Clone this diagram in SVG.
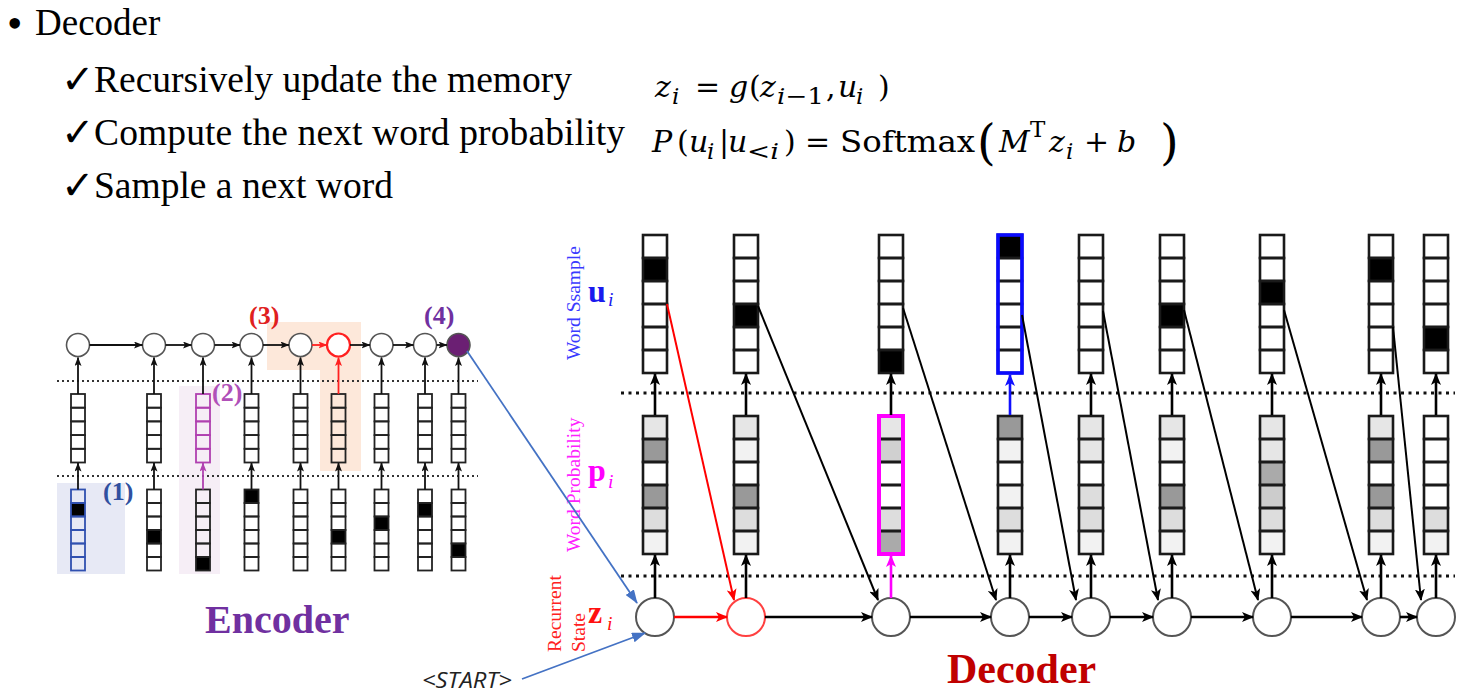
<svg xmlns="http://www.w3.org/2000/svg" xmlns:xlink="http://www.w3.org/1999/xlink" width="1476" height="698" viewBox="0 0 1476 698">
<style>
.t{font-family:"Liberation Serif","Times New Roman",serif;fill:#000}
.m{font-family:"DejaVu Serif",serif;fill:#000;font-size:30px}
.mi{font-style:italic}
.ms{font-size:23px}
.mb{font-size:48px}
.ck{font-family:"DejaVu Sans",sans-serif;font-size:40px;fill:#000}
.dc{stroke:#1a1a1a;stroke-width:2.6;fill:none}
.ec{stroke:#222;stroke-width:1.8;fill:none}
.w{fill:#fff}
.k{fill:#000}
.zc{fill:#fff;stroke:#555;stroke-width:2}
.ecir{fill:#fff;stroke:#555;stroke-width:1.6}
.a{stroke:#000;stroke-width:2.6;fill:none;marker-end:url(#ah)}
.ad{stroke:#000;stroke-width:2;fill:none;marker-end:url(#ah)}
.ea{stroke:#111;stroke-width:1.8;fill:none;marker-end:url(#ahs)}
.dot{stroke:#111;stroke-width:3;stroke-dasharray:3 4.5;fill:none}
.edot{stroke:#333;stroke-width:2;stroke-dasharray:2 3;fill:none}
.lbl{font-family:"Liberation Serif","Times New Roman",serif;font-size:19.5px}
.big{font-family:"Liberation Serif","Times New Roman",serif;font-weight:bold}
</style>
<defs>
<marker id="ah" viewBox="0 0 12 10" refX="11" refY="5" markerWidth="12" markerHeight="10" markerUnits="userSpaceOnUse" orient="auto"><path d="M0,0 L12,5 L0,10 L3,5 Z" fill="#000"/></marker>
<marker id="ahr" viewBox="0 0 12 10" refX="11" refY="5" markerWidth="12" markerHeight="10" markerUnits="userSpaceOnUse" orient="auto"><path d="M0,0 L12,5 L0,10 L3,5 Z" fill="#ff0000"/></marker>
<marker id="ahb" viewBox="0 0 12 10" refX="11" refY="5" markerWidth="12" markerHeight="10" markerUnits="userSpaceOnUse" orient="auto"><path d="M0,0 L12,5 L0,10 L3,5 Z" fill="#1010ff"/></marker>
<marker id="ahm" viewBox="0 0 12 10" refX="11" refY="5" markerWidth="12" markerHeight="10" markerUnits="userSpaceOnUse" orient="auto"><path d="M0,0 L12,5 L0,10 L3,5 Z" fill="#ff00ff"/></marker>
<marker id="ahc" viewBox="0 0 14 10" refX="13" refY="5" markerWidth="14" markerHeight="10" markerUnits="userSpaceOnUse" orient="auto"><path d="M0,0 L14,5 L0,10 Z" fill="#4472c4"/></marker>
<marker id="ahs" viewBox="0 0 9 7" refX="8.5" refY="3.5" markerWidth="9" markerHeight="7" markerUnits="userSpaceOnUse" orient="auto"><path d="M0,0 L9,3.5 L0,7 L2,3.5 Z" fill="#111"/></marker>
<marker id="ahsr" viewBox="0 0 9 7" refX="8.5" refY="3.5" markerWidth="9" markerHeight="7" markerUnits="userSpaceOnUse" orient="auto"><path d="M0,0 L9,3.5 L0,7 L2,3.5 Z" fill="#ff2020"/></marker>
<marker id="ahsm" viewBox="0 0 9 7" refX="8.5" refY="3.5" markerWidth="9" markerHeight="7" markerUnits="userSpaceOnUse" orient="auto"><path d="M0,0 L9,3.5 L0,7 L2,3.5 Z" fill="#b040b0"/></marker>
<g id="u6"><rect x="-12" y="0" width="24" height="23"/><rect x="-12" y="23" width="24" height="23"/><rect x="-12" y="46" width="24" height="23"/><rect x="-12" y="69" width="24" height="23"/><rect x="-12" y="92" width="24" height="23"/><rect x="-12" y="115" width="24" height="23"/></g>
<g id="m5"><rect x="-7" y="0" width="14" height="13.7"/><rect x="-7" y="13.7" width="14" height="13.7"/><rect x="-7" y="27.4" width="14" height="13.7"/><rect x="-7" y="41.1" width="14" height="13.7"/><rect x="-7" y="54.8" width="14" height="13.7"/></g>
<g id="b6"><rect x="-7" y="0" width="14" height="13.5"/><rect x="-7" y="13.5" width="14" height="13.5"/><rect x="-7" y="27" width="14" height="13.5"/><rect x="-7" y="40.5" width="14" height="13.5"/><rect x="-7" y="54" width="14" height="13.5"/><rect x="-7" y="67.5" width="14" height="13.5"/></g>
</defs>
<rect width="1476" height="698" fill="#fff"/>

<!-- top text -->
<g id="bullets">
<text class="t" x="7" y="38" font-size="44">•</text>
<text class="t" x="35" y="35" font-size="37">Decoder</text>
<text class="ck" x="61" y="93">✓</text>
<text class="t" x="94" y="92" font-size="37.5">Recursively update the memory</text>
<text class="ck" x="61" y="146">✓</text>
<text class="t" x="94" y="145" font-size="37.5" textLength="531" lengthAdjust="spacing">Compute the next word probability</text>
<text class="ck" x="61" y="199">✓</text>
<text class="t" x="94" y="198" font-size="37.5">Sample a next word</text>
</g>

<g id="formula1">
<text class="m mi" x="655" y="97">z</text>
<text class="m mi ms" x="672" y="104">i</text>
<text class="m" x="695" y="97">=</text>
<text class="m mi" x="729" y="97">g</text>
<text class="m" x="749" y="97">(</text>
<text class="m mi" x="760" y="97">z</text>
<text class="m ms" x="777" y="104" textLength="47" lengthAdjust="spacingAndGlyphs"><tspan class="mi">i</tspan>−1</text>
<text class="m" x="826" y="97">,</text>
<text class="m mi" x="838" y="97">u</text>
<text class="m mi ms" x="856" y="104">i</text>
<text class="m" x="878" y="97">)</text>
</g>
<g id="formula2">
<text class="m mi" x="652" y="152">P</text>
<text class="m" x="677" y="152">(</text>
<text class="m mi" x="689" y="152">u</text>
<text class="m mi ms" x="707" y="159">i</text>
<text class="m" x="719" y="152">|</text>
<text class="m mi" x="728" y="152">u</text>
<text class="m ms" x="747" y="159" textLength="32" lengthAdjust="spacingAndGlyphs">&lt;<tspan class="mi">i</tspan></text>
<text class="m" x="784" y="152">)</text>
<text class="m" x="805" y="152">=</text>
<text class="m" x="840" y="152" textLength="135" lengthAdjust="spacingAndGlyphs">Softmax</text>
<text class="m mb" x="977" y="159">(</text>
<text class="m mi" x="999" y="152">M</text>
<text class="m ms" x="1030" y="137">T</text>
<text class="m mi" x="1049" y="152">z</text>
<text class="m mi ms" x="1066" y="159">i</text>
<text class="m" x="1084" y="152">+</text>
<text class="m mi" x="1117" y="152">b</text>
<text class="m mb" x="1160" y="159">)</text>
</g>

<!-- encoder highlights -->
<g id="highlights">
<rect x="57" y="483" width="68" height="91" fill="#e7e9f5"/>
<rect x="179" y="386" width="41" height="188" fill="#f6eef6"/>
<polygon points="267,322 361,322 361,471 320,471 320,370 267,370" fill="#fde8da"/>
</g>

<g id="enc-dots">
<line class="edot" x1="57" y1="381" x2="478" y2="381"/>
<line class="edot" x1="57" y1="476" x2="478" y2="476"/>
</g>

<!-- encoder columns -->
<g id="enc1"><rect class="k" x="71" y="503" width="14" height="13.5"/><use href="#b6" x="78" y="489.5" fill="none" stroke="#3050b0" stroke-width="1.8"/><use href="#m5" x="78" y="394" class="ec"/></g>
<g id="enc2"><rect class="w" x="147" y="489.5" width="14" height="81"/><rect class="k" x="147" y="530" width="14" height="13.5"/><use href="#b6" x="154" y="489.5" class="ec"/><use href="#m5" x="154" y="394" class="ec"/></g>
<g id="enc3"><rect class="k" x="196" y="557" width="14" height="13.5"/><use href="#b6" x="203" y="489.5" class="ec"/><use href="#m5" x="203" y="394" fill="none" stroke="#b040b0" stroke-width="1.8"/></g>
<g id="enc4"><rect class="k" x="244.5" y="489.5" width="14" height="13.5"/><use href="#b6" x="251.5" y="489.5" class="ec"/><use href="#m5" x="251.5" y="394" class="ec"/></g>
<g id="enc5"><use href="#b6" x="300.5" y="489.5" class="ec"/><use href="#m5" x="300.5" y="394" class="ec"/></g>
<g id="enc6"><rect class="k" x="331.5" y="530" width="14" height="13.5"/><use href="#b6" x="338.5" y="489.5" class="ec"/><use href="#m5" x="338.5" y="394" class="ec"/></g>
<g id="enc7"><rect class="k" x="374.5" y="516.5" width="14" height="13.5"/><use href="#b6" x="381.5" y="489.5" class="ec"/><use href="#m5" x="381.5" y="394" class="ec"/></g>
<g id="enc8"><rect class="k" x="418" y="503" width="14" height="13.5"/><use href="#b6" x="425" y="489.5" class="ec"/><use href="#m5" x="425" y="394" class="ec"/></g>
<g id="enc9"><rect class="k" x="451.5" y="543.5" width="14" height="13.5"/><use href="#b6" x="458.5" y="489.5" class="ec"/><use href="#m5" x="458.5" y="394" class="ec"/></g>

<!-- encoder states -->
<g id="h1"><circle class="ecir" cx="78" cy="345" r="11.5"/></g>
<g id="h2"><circle class="ecir" cx="154" cy="345" r="11.5"/></g>
<g id="h3"><circle class="ecir" cx="203" cy="345" r="11.5"/></g>
<g id="h4"><circle class="ecir" cx="251.5" cy="345" r="11.5"/></g>
<g id="h5"><circle class="ecir" cx="300.5" cy="345" r="11.5"/></g>
<g id="h6"><circle cx="338.5" cy="345" r="11.5" fill="#fff" stroke="#ff2020" stroke-width="2.2"/></g>
<g id="h7"><circle class="ecir" cx="381.5" cy="345" r="11.5"/></g>
<g id="h8"><circle class="ecir" cx="425" cy="345" r="11.5"/></g>
<g id="h9"><circle cx="458.5" cy="345" r="11.5" fill="#6b1f73" stroke="#555" stroke-width="1.6"/></g>

<g id="enc-labels">
<text class="big" x="103" y="500" font-size="26" fill="#3050a0">(1)</text>
<text class="big" x="212" y="401" font-size="26" fill="#b050b8">(2)</text>
<text class="big" x="249" y="324" font-size="26" fill="#e02020">(3)</text>
<text class="big" x="424" y="324" font-size="26" fill="#7030a0">(4)</text>
<text class="big" x="205" y="633" font-size="40" fill="#7030a0">Encoder</text>
</g>

<!-- decoder -->
<g id="dec-dots">
<line class="dot" x1="621" y1="393" x2="1455" y2="393"/>
<line class="dot" x1="621" y1="576" x2="1455" y2="576"/>
</g>

<g id="dec-labels">
<text class="lbl" transform="translate(580,360) rotate(-90)" fill="#3a3aff">Word Ssample</text>
<text class="big" x="588" y="302" font-size="32" fill="#1a1aee">u</text>
<text class="lbl" x="608" y="306" font-size="22" font-style="italic" fill="#1a1aee">i</text>
<text class="lbl" transform="translate(580,552) rotate(-90)" fill="#ff20ff">Word Probability</text>
<text class="big" x="588" y="481" font-size="32" fill="#ff00ff">p</text>
<text class="lbl" x="608" y="488" font-size="22" font-style="italic" fill="#ff00ff">i</text>
<text class="lbl" transform="translate(561,652) rotate(-90)" fill="#ff2020">Recurrent</text>
<text class="lbl" transform="translate(585,652) rotate(-90)" fill="#ff2020">State</text>
<text class="big" x="588" y="623" font-size="32" fill="#ff1010">z</text>
<text class="lbl" x="607" y="630" font-size="22" font-style="italic" fill="#ff1010">i</text>
<text x="422" y="688" font-family="'Open Sans','Liberation Sans',sans-serif" font-style="italic" font-size="22" fill="#222" textLength="90" lengthAdjust="spacingAndGlyphs">&lt;START&gt;</text>
<text class="big" x="947" y="683" font-size="42" fill="#c00000">Decoder</text>
</g>

<!-- word sample columns -->
<g id="u1"><rect class="w" x="643" y="235" width="24" height="138"/><rect class="k" x="643" y="258" width="24" height="23"/><use href="#u6" x="655" y="235" class="dc"/></g>
<g id="u2"><rect class="w" x="734" y="235" width="24" height="138"/><rect class="k" x="734" y="304" width="24" height="23"/><use href="#u6" x="746" y="235" class="dc"/></g>
<g id="u3"><rect class="w" x="879" y="235" width="24" height="138"/><rect class="k" x="879" y="350" width="24" height="23"/><use href="#u6" x="891" y="235" class="dc"/></g>
<g id="u4"><rect class="w" x="998" y="235" width="24" height="138"/><rect class="k" x="998" y="235" width="24" height="23"/><use href="#u6" x="1010" y="235" class="dc"/><rect x="998" y="235" width="24" height="138" fill="none" stroke="#0a0aff" stroke-width="3.6"/></g>
<g id="u5"><rect class="w" x="1079" y="235" width="24" height="138"/><use href="#u6" x="1091" y="235" class="dc"/></g>
<g id="u6c"><rect class="w" x="1160" y="235" width="24" height="138"/><rect class="k" x="1160" y="304" width="24" height="23"/><use href="#u6" x="1172" y="235" class="dc"/></g>
<g id="u7"><rect class="w" x="1260" y="235" width="24" height="138"/><rect class="k" x="1260" y="281" width="24" height="23"/><use href="#u6" x="1272" y="235" class="dc"/></g>
<g id="u8"><rect class="w" x="1369" y="235" width="24" height="138"/><rect class="k" x="1369" y="258" width="24" height="23"/><use href="#u6" x="1381" y="235" class="dc"/></g>
<g id="u9"><rect class="w" x="1424" y="235" width="24" height="138"/><rect class="k" x="1424" y="327" width="24" height="23"/><use href="#u6" x="1436" y="235" class="dc"/></g>

<!-- word probability columns -->
<g id="p1"><rect x="643" y="416" width="24" height="23" fill="#e6e6e6"/><rect x="643" y="439" width="24" height="23" fill="#999"/><rect x="643" y="462" width="24" height="23" fill="#fff"/><rect x="643" y="485" width="24" height="23" fill="#999"/><rect x="643" y="508" width="24" height="23" fill="#ddd"/><rect x="643" y="531" width="24" height="23" fill="#f2f2f2"/><use href="#u6" x="655" y="416" class="dc"/></g>
<g id="p2"><rect x="734" y="416" width="24" height="23" fill="#e6e6e6"/><rect x="734" y="439" width="24" height="23" fill="#f2f2f2"/><rect x="734" y="462" width="24" height="23" fill="#fff"/><rect x="734" y="485" width="24" height="23" fill="#999"/><rect x="734" y="508" width="24" height="23" fill="#ddd"/><rect x="734" y="531" width="24" height="23" fill="#f2f2f2"/><use href="#u6" x="746" y="416" class="dc"/></g>
<g id="p3"><rect x="879" y="416" width="24" height="23" fill="#e6e6e6"/><rect x="879" y="439" width="24" height="23" fill="#d0d0d0"/><rect x="879" y="462" width="24" height="23" fill="#fff"/><rect x="879" y="485" width="24" height="23" fill="#fff"/><rect x="879" y="508" width="24" height="23" fill="#ddd"/><rect x="879" y="531" width="24" height="23" fill="#aaa"/><use href="#u6" x="891" y="416" class="dc"/><rect x="879" y="416" width="24" height="138" fill="none" stroke="#ff00ff" stroke-width="4"/></g>
<g id="p4"><rect x="998" y="416" width="24" height="23" fill="#999"/><rect x="998" y="439" width="24" height="23" fill="#f2f2f2"/><rect x="998" y="462" width="24" height="23" fill="#fff"/><rect x="998" y="485" width="24" height="23" fill="#f2f2f2"/><rect x="998" y="508" width="24" height="23" fill="#ddd"/><rect x="998" y="531" width="24" height="23" fill="#f2f2f2"/><use href="#u6" x="1010" y="416" class="dc"/></g>
<g id="p5"><rect x="1079" y="416" width="24" height="23" fill="#e6e6e6"/><rect x="1079" y="439" width="24" height="23" fill="#e6e6e6"/><rect x="1079" y="462" width="24" height="23" fill="#fff"/><rect x="1079" y="485" width="24" height="23" fill="#ddd"/><rect x="1079" y="508" width="24" height="23" fill="#ddd"/><rect x="1079" y="531" width="24" height="23" fill="#f2f2f2"/><use href="#u6" x="1091" y="416" class="dc"/></g>
<g id="p6"><rect x="1160" y="416" width="24" height="23" fill="#e6e6e6"/><rect x="1160" y="439" width="24" height="23" fill="#f2f2f2"/><rect x="1160" y="462" width="24" height="23" fill="#fff"/><rect x="1160" y="485" width="24" height="23" fill="#999"/><rect x="1160" y="508" width="24" height="23" fill="#ddd"/><rect x="1160" y="531" width="24" height="23" fill="#f2f2f2"/><use href="#u6" x="1172" y="416" class="dc"/></g>
<g id="p7"><rect x="1260" y="416" width="24" height="23" fill="#e6e6e6"/><rect x="1260" y="439" width="24" height="23" fill="#e6e6e6"/><rect x="1260" y="462" width="24" height="23" fill="#aaa"/><rect x="1260" y="485" width="24" height="23" fill="#ccc"/><rect x="1260" y="508" width="24" height="23" fill="#ddd"/><rect x="1260" y="531" width="24" height="23" fill="#f2f2f2"/><use href="#u6" x="1272" y="416" class="dc"/></g>
<g id="p8"><rect x="1369" y="416" width="24" height="23" fill="#e6e6e6"/><rect x="1369" y="439" width="24" height="23" fill="#999"/><rect x="1369" y="462" width="24" height="23" fill="#fff"/><rect x="1369" y="485" width="24" height="23" fill="#999"/><rect x="1369" y="508" width="24" height="23" fill="#ddd"/><rect x="1369" y="531" width="24" height="23" fill="#f2f2f2"/><use href="#u6" x="1381" y="416" class="dc"/></g>
<g id="p9"><rect x="1424" y="416" width="24" height="23" fill="#fff"/><rect x="1424" y="439" width="24" height="23" fill="#fff"/><rect x="1424" y="462" width="24" height="23" fill="#fff"/><rect x="1424" y="485" width="24" height="23" fill="#fff"/><rect x="1424" y="508" width="24" height="23" fill="#ddd"/><rect x="1424" y="531" width="24" height="23" fill="#f2f2f2"/><use href="#u6" x="1436" y="416" class="dc"/></g>

<!-- recurrent states -->
<g id="z1"><circle class="zc" cx="655" cy="617" r="19"/></g>
<g id="z2"><circle cx="746" cy="617" r="19" fill="#fff" stroke="#ff4040" stroke-width="2"/></g>
<g id="z3"><circle class="zc" cx="891" cy="617" r="19"/></g>
<g id="z4"><circle class="zc" cx="1010" cy="617" r="19"/></g>
<g id="z5"><circle class="zc" cx="1091" cy="617" r="19"/></g>
<g id="z6"><circle class="zc" cx="1172" cy="617" r="19"/></g>
<g id="z7"><circle class="zc" cx="1272" cy="617" r="19"/></g>
<g id="z8"><circle class="zc" cx="1381" cy="617" r="19"/></g>
<g id="z9"><circle class="zc" cx="1436" cy="617" r="19"/></g>

<g id="connectors">
<!-- encoder horizontal -->
<line class="ea" x1="89.5" y1="345" x2="142.5" y2="345"/>
<line class="ea" x1="165.5" y1="345" x2="191.5" y2="345"/>
<line class="ea" x1="214.5" y1="345" x2="240" y2="345"/>
<line class="ea" x1="263" y1="345" x2="289" y2="345"/>
<line x1="312" y1="345" x2="327" y2="345" stroke="#ff2020" stroke-width="1.8" marker-end="url(#ahsr)"/>
<line class="ea" x1="350" y1="345" x2="370" y2="345"/>
<line class="ea" x1="393" y1="345" x2="413.5" y2="345"/>
<line class="ea" x1="436.5" y1="345" x2="447" y2="345"/>
<!-- encoder vertical (middle to state) -->
<line class="ea" x1="78" y1="394" x2="78" y2="357.5"/>
<line class="ea" x1="154" y1="394" x2="154" y2="357.5"/>
<line class="ea" x1="203" y1="394" x2="203" y2="357.5"/>
<line class="ea" x1="251.5" y1="394" x2="251.5" y2="357.5"/>
<line class="ea" x1="300.5" y1="394" x2="300.5" y2="357.5"/>
<line x1="338.5" y1="394" x2="338.5" y2="357.5" stroke="#ff2020" stroke-width="1.8" marker-end="url(#ahsr)"/>
<line class="ea" x1="381.5" y1="394" x2="381.5" y2="357.5"/>
<line class="ea" x1="425" y1="394" x2="425" y2="357.5"/>
<line class="ea" x1="458.5" y1="394" x2="458.5" y2="357.5"/>
<!-- encoder vertical (input to middle) -->
<line class="ea" x1="78" y1="489.5" x2="78" y2="463"/>
<line class="ea" x1="154" y1="489.5" x2="154" y2="463"/>
<line x1="203" y1="489.5" x2="203" y2="463" stroke="#b040b0" stroke-width="1.8" marker-end="url(#ahsm)"/>
<line class="ea" x1="251.5" y1="489.5" x2="251.5" y2="463"/>
<line class="ea" x1="300.5" y1="489.5" x2="300.5" y2="463"/>
<line class="ea" x1="338.5" y1="489.5" x2="338.5" y2="463"/>
<line class="ea" x1="381.5" y1="489.5" x2="381.5" y2="463"/>
<line class="ea" x1="425" y1="489.5" x2="425" y2="463"/>
<line class="ea" x1="458.5" y1="489.5" x2="458.5" y2="463"/>
<!-- encoder to decoder, start -->
<line x1="467" y1="351" x2="637" y2="603" stroke="#4472c4" stroke-width="1.8" marker-end="url(#ahc)"/>
<line x1="522" y1="679" x2="645" y2="633" stroke="#4472c4" stroke-width="1.8" marker-end="url(#ahc)"/>
<!-- decoder state to probability -->
<line class="a" x1="655" y1="598" x2="655" y2="555"/>
<line class="a" x1="746" y1="598" x2="746" y2="555"/>
<line x1="891" y1="598" x2="891" y2="556" stroke="#ff00ff" stroke-width="2.6" marker-end="url(#ahm)"/>
<line class="a" x1="1010" y1="598" x2="1010" y2="555"/>
<line class="a" x1="1091" y1="598" x2="1091" y2="555"/>
<line class="a" x1="1172" y1="598" x2="1172" y2="555"/>
<line class="a" x1="1272" y1="598" x2="1272" y2="555"/>
<line class="a" x1="1381" y1="598" x2="1381" y2="555"/>
<line class="a" x1="1436" y1="598" x2="1436" y2="555"/>
<!-- probability to sample -->
<line class="a" x1="655" y1="415" x2="655" y2="374"/>
<line class="a" x1="746" y1="415" x2="746" y2="374"/>
<line class="a" x1="891" y1="415" x2="891" y2="374"/>
<line x1="1010" y1="415" x2="1010" y2="375" stroke="#1010ff" stroke-width="2.6" marker-end="url(#ahb)"/>
<line class="a" x1="1091" y1="415" x2="1091" y2="374"/>
<line class="a" x1="1172" y1="415" x2="1172" y2="374"/>
<line class="a" x1="1272" y1="415" x2="1272" y2="374"/>
<line class="a" x1="1381" y1="415" x2="1381" y2="374"/>
<line class="a" x1="1436" y1="415" x2="1436" y2="374"/>
<!-- recurrent horizontal -->
<line x1="674" y1="617" x2="727" y2="617" stroke="#ff0000" stroke-width="2.6" marker-end="url(#ahr)"/>
<line class="a" x1="765" y1="617" x2="872" y2="617"/>
<line class="a" x1="910" y1="617" x2="991" y2="617"/>
<line class="a" x1="1029" y1="617" x2="1072" y2="617"/>
<line class="a" x1="1110" y1="617" x2="1153" y2="617"/>
<line class="a" x1="1191" y1="617" x2="1253" y2="617"/>
<line class="a" x1="1291" y1="617" x2="1362" y2="617"/>
<line class="a" x1="1400" y1="617" x2="1417" y2="617"/>
<!-- sample feedback diagonals -->
<line x1="667" y1="304" x2="734" y2="600" stroke="#ff0000" stroke-width="2" marker-end="url(#ahr)"/>
<line class="ad" x1="758" y1="306" x2="878" y2="600"/>
<line class="ad" x1="903" y1="308" x2="996" y2="600"/>
<line class="ad" x1="1022" y1="315" x2="1076" y2="600"/>
<line class="ad" x1="1103" y1="311" x2="1158" y2="600"/>
<line class="ad" x1="1184" y1="310" x2="1258" y2="600"/>
<line class="ad" x1="1284" y1="310" x2="1367" y2="600"/>
<line class="ad" x1="1393" y1="327" x2="1421" y2="600"/>
</g>
</svg>
